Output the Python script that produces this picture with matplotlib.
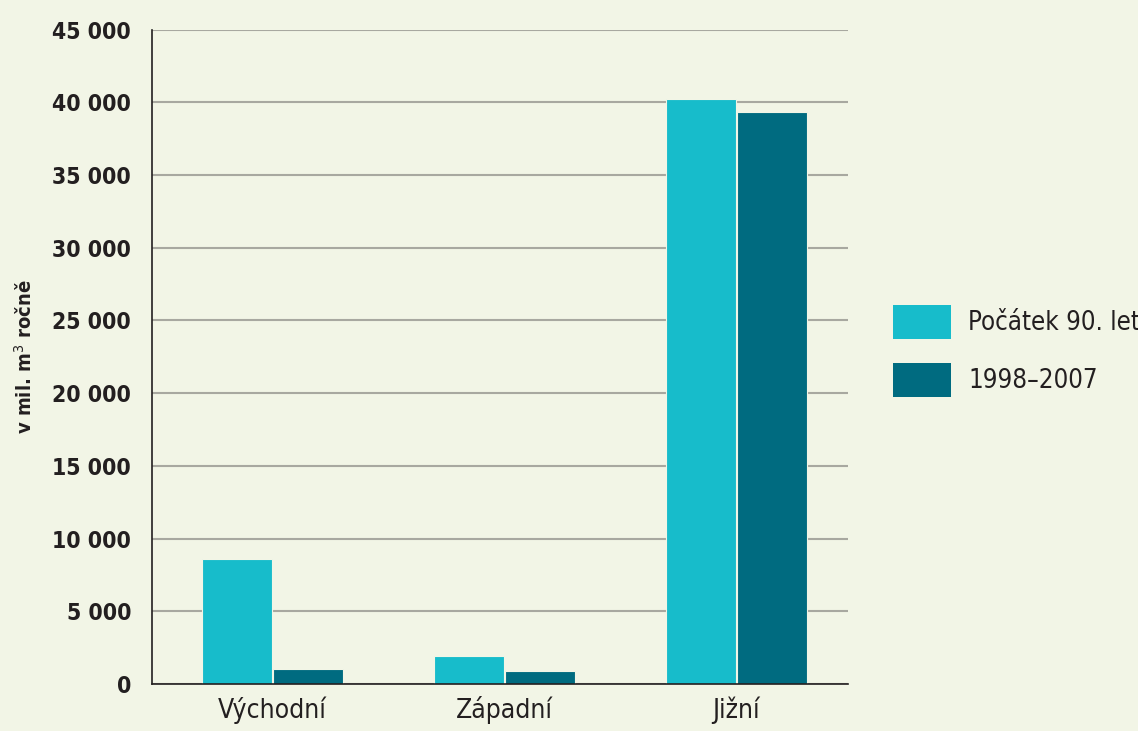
import matplotlib
matplotlib.use("Agg")
import matplotlib.pyplot as plt
import numpy as np
from matplotlib.patches import Patch

categories = ["Východní", "Západní", "Jižní"]
series_names = ["Počátek 90. let", "1998–2007"]
early_90s = [8600, 1930, 40200]
recent = [1030, 900, 39300]
yticks = [0, 5000, 10000, 15000, 20000, 25000, 30000, 35000, 40000, 45000]
ytick_labels = ["0", "5 000", "10 000", "15 000", "20 000", "25 000", "30 000", "35 000", "40 000", "45 000"]
ylabel = "v mil. m$^3$ ročně"

bg = "#F2F5E6"
c1 = "#17BCCB"
c2 = "#006B80"

plt.rcParams['font.family'] = ['DejaVu Sans']
plt.rcParams['font.stretch'] = 'condensed'

W, H = 1138, 731
fig = plt.figure(figsize=(W/100, H/100), dpi=100, facecolor=bg)
ax = fig.add_axes([152/W, (H-684)/H, 696/W, (684-29.6)/H], facecolor=bg)

x = np.arange(len(categories))
bw = 0.302
ax.bar(x - bw/2 - 0.002, early_90s, width=bw, color=c1, edgecolor=bg, linewidth=0.8, zorder=3)
ax.bar(x + bw/2 + 0.002, recent, width=bw, color=c2, edgecolor=bg, linewidth=0.8, zorder=3)

ax.set_xlim(-0.52, 2.483)
ax.set_ylim(0, 45000)
ax.set_yticks(yticks)
ax.set_yticklabels(ytick_labels, fontsize=16.5, fontweight='bold', color='#231F20')
ax.set_xticks(x)
ax.set_xticklabels(categories, fontsize=19, color='#231F20')
ax.tick_params(axis='y', length=0, pad=15)
ax.tick_params(axis='x', length=0, pad=9)
ax.yaxis.grid(True, color='#A8A8A0', linewidth=1.5, zorder=0)
ax.set_axisbelow(True)
for s in ['top', 'right']:
    ax.spines[s].set_visible(False)
for s in ['left', 'bottom']:
    ax.spines[s].set_color('#231F20')
    ax.spines[s].set_linewidth(1.2)
    ax.spines[s].set_zorder(4)

fig.text(25/W, 1 - 357/H, ylabel, rotation=90, fontsize=14.5, fontweight='bold',
         color='#231F20', ha='center', va='center')

handles = [Patch(facecolor=c1, edgecolor='none'), Patch(facecolor=c2, edgecolor='none')]
leg = fig.legend(handles, series_names, loc='center left', bbox_to_anchor=(893/W, 1 - 351/H),
                 frameon=False, fontsize=18.5, handlelength=2.26, handleheight=1.7,
                 labelspacing=0.9, handletextpad=0.66, borderaxespad=0, borderpad=0)
for t in leg.get_texts():
    t.set_color('#231F20')

fig.savefig("out.png", dpi=100, facecolor=bg)
